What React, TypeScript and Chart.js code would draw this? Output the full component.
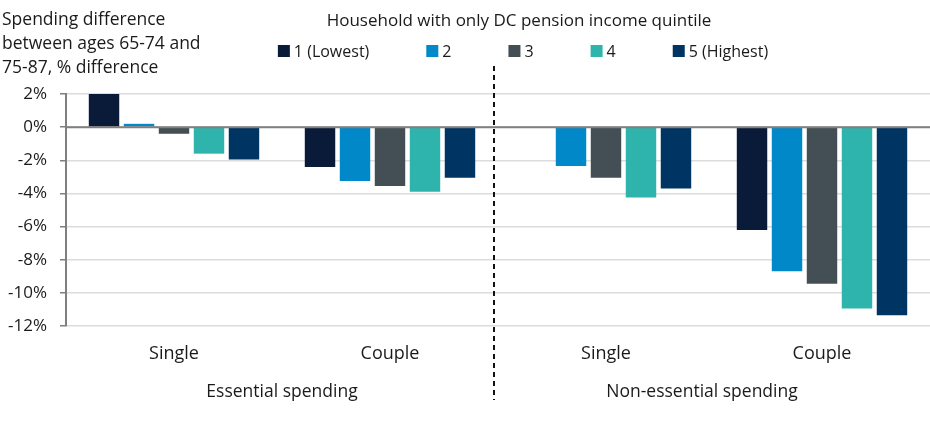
import { useEffect, useRef } from "react"
import { Chart, registerables } from "chart.js"

Chart.register(...registerables)

const categories = ["Single", "Couple", "Single", "Couple"]
const groupLabels = ["Essential spending", "Non-essential spending"]
const quintiles = ["1 (Lowest)", "2", "3", "4", "5 (Highest)"]
const colors = ["#0a1b3a", "#0088c8", "#444f55", "#2eb4ac", "#003462"]

// % difference in spending, one array per quintile, in category order
const q1 = [2.0, -2.4, null, -6.2]
const q2 = [0.2, -3.25, -2.35, -8.7]
const q3 = [-0.4, -3.55, -3.05, -9.45]
const q4 = [-1.6, -3.9, -4.25, -10.95]
const q5 = [-1.95, -3.05, -3.7, -11.35]

const yMin = -12
const yMax = 2
const yStep = 2

const yTitle = ["Spending difference", "between ages 65-74 and", "75-87, % difference"]
const legendTitle = "Household with only DC pension income quintile"

const FONT = "'Open Sans', sans-serif"
const TEXT = "#1a1a1a"

const overlay = {
  id: "overlay",
  afterDatasetsDraw(chart: any) {
    const { ctx, chartArea, scales } = chart
    const y0 = scales.y.getPixelForValue(0)
    ctx.save()
    // zero line over the bars
    ctx.strokeStyle = "#7f7f7f"
    ctx.lineWidth = 2
    ctx.beginPath()
    ctx.moveTo(chartArea.left, y0)
    ctx.lineTo(chartArea.right, y0)
    ctx.stroke()

    // dashed divider between the two groups
    const xd = scales.x.getPixelForValue(1.5) - 4
    ctx.strokeStyle = "#111"
    ctx.setLineDash([5, 4])
    ctx.beginPath()
    ctx.moveTo(xd, 66)
    ctx.lineTo(xd, 400)
    ctx.stroke()
    ctx.restore()
  },
  afterDraw(chart: any) {
    const { ctx, scales } = chart
    ctx.save()
    ctx.fillStyle = TEXT
    ctx.textBaseline = "alphabetic"

    // y axis title, top left
    ctx.font = `17.5px ${FONT}`
    ctx.textAlign = "left"
    yTitle.forEach((line, i) => ctx.fillText(line, 2, 25 + i * 24))

    // legend title
    ctx.font = `17px ${FONT}`
    ctx.textAlign = "center"
    ctx.fillText(legendTitle, 519, 26)

    // legend row
    ctx.font = `16px ${FONT}`
    const box = 12
    const gap = 57
    const widths = quintiles.map((q) => box + 4 + ctx.measureText(q).width)
    const total = widths.reduce((a, b) => a + b, 0) + gap * (quintiles.length - 1)
    let x = 523 - total / 2
    ctx.textAlign = "left"
    quintiles.forEach((q, i) => {
      ctx.fillStyle = colors[i]
      ctx.fillRect(x, 45, box, box)
      ctx.fillStyle = TEXT
      ctx.fillText(q, x + box + 4, 56.5)
      x += widths[i] + gap
    })

    // group labels under the categories
    ctx.font = `17.5px ${FONT}`
    ctx.textAlign = "center"
    const xa = (scales.x.getPixelForValue(0) + scales.x.getPixelForValue(1)) / 2
    const xb = (scales.x.getPixelForValue(2) + scales.x.getPixelForValue(3)) / 2 - 12
    ctx.fillText(groupLabels[0], xa, 397)
    ctx.fillText(groupLabels[1], xb, 397)
    ctx.restore()
  },
}

function QuintileChart() {
  const chartRef = useRef<HTMLCanvasElement>(null)
  const chartInstance = useRef<Chart | null>(null)

  useEffect(() => {
    if (!chartRef.current) return
    if (chartInstance.current) chartInstance.current.destroy()

    const series = [q1, q2, q3, q4, q5]
    chartInstance.current = new Chart(chartRef.current, {
      type: "bar",
      data: {
        labels: categories,
        datasets: series.map((d, i) => ({
          label: quintiles[i],
          data: d,
          backgroundColor: colors[i],
          categoryPercentage: 0.81,
          barPercentage: 0.87,
        })),
      },
      options: {
        responsive: true,
        maintainAspectRatio: false,
        animation: false,
        layout: { padding: { top: 94, bottom: 73, left: 0, right: 0 } },
        plugins: {
          legend: { display: false },
          tooltip: { enabled: false },
        },
        scales: {
          x: {
            grid: { display: false, drawTicks: false },
            border: { display: false },
            ticks: { color: TEXT, font: { family: FONT, size: 18 }, padding: 17 },
            afterFit: (axis: any) => {
              axis.height = 40
            },
          },
          y: {
            min: yMin,
            max: yMax,
            ticks: {
              stepSize: yStep,
              color: TEXT,
              font: { family: FONT, size: 17 },
              padding: 13,
              callback: (v: any) => `${v}%`,
            },
            grid: { color: "#dcdcdc", lineWidth: 1.5, tickColor: "#7f7f7f", tickLength: 6 },
            border: { display: true, color: "#7f7f7f", width: 2 },
            afterFit: (axis: any) => {
              axis.width = 66
            },
          },
        },
      },
      plugins: [overlay],
    })

    return () => {
      if (chartInstance.current) {
        chartInstance.current.destroy()
        chartInstance.current = null
      }
    }
  }, [])

  return <canvas ref={chartRef} />
}

export default function App() {
  return (
    <div style={{ position: "fixed", left: 0, top: 0, width: 930, height: 439, background: "#fff" }}>
      <QuintileChart />
    </div>
  )
}
